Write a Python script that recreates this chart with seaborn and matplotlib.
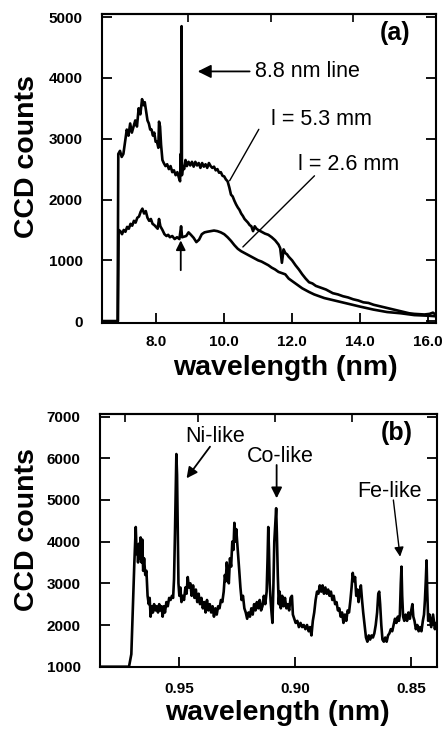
import numpy as np
import pandas as pd
import matplotlib
matplotlib.use("Agg")
import matplotlib.pyplot as plt
import seaborn as sns

# ---------------- data: panel (a) ----------------
wl_53 = [6.40, 6.86, 6.88, 6.93, 6.98, 7.03, 7.08, 7.13, 7.18, 7.23,
         7.28, 7.33, 7.38, 7.43, 7.48, 7.53, 7.58, 7.62, 7.66, 7.70,
         7.74, 7.78, 7.82, 7.86, 7.90, 7.94, 7.98, 8.02, 8.06, 8.08,
         8.11, 8.14, 8.18, 8.22, 8.27, 8.32, 8.37, 8.42, 8.47, 8.52,
         8.57, 8.62, 8.67, 8.70, 8.72, 8.73, 8.745, 8.755, 8.78, 8.82,
         8.86, 8.90, 8.95, 9.00, 9.05, 9.10, 9.15, 9.20, 9.25, 9.30,
         9.35, 9.40, 9.45, 9.50, 9.55, 9.60, 9.65, 9.70, 9.75, 9.80,
         9.85, 9.90, 9.95, 10.00, 10.05, 10.10, 10.15, 10.20, 10.25, 10.30,
         10.35, 10.40, 10.45, 10.50, 10.55, 10.60, 10.65, 10.70, 10.75, 10.80,
         10.85, 10.90, 10.95, 11.00, 11.10, 11.20, 11.30, 11.40, 11.50, 11.60,
         11.65, 11.70, 11.75, 11.80, 11.85, 11.90, 12.00, 12.10, 12.20, 12.30,
         12.40, 12.50, 12.60, 12.70, 12.80, 12.90, 13.00, 13.10, 13.20, 13.35,
         13.50, 13.65, 13.80, 13.95, 14.10, 14.25, 14.40, 14.55, 14.70, 14.85,
         15.00, 15.15, 15.30, 15.45, 15.60, 15.75, 15.90, 16.05, 16.15, 16.25]
cts_53 = [0, 0, 2750, 2800, 2700, 2750, 2950, 3150, 3050, 3250,
          3100, 3200, 3300, 3200, 3500, 3400, 3650, 3550, 3600, 3450,
          3300, 3250, 3150, 3150, 3050, 3100, 2950, 2950, 2850, 3280,
          3200, 2900, 2650, 2600, 2550, 2580, 2500, 2550, 2450, 2480,
          2400, 2450, 2350, 2300, 2750, 2450, 4850, 2400, 2550, 2500,
          2650, 2550, 2620, 2560, 2620, 2540, 2620, 2560, 2600, 2520,
          2600, 2540, 2580, 2520, 2600, 2550, 2520, 2540, 2480, 2500,
          2440, 2450, 2390, 2380, 2330, 2300, 2200, 2080, 2050, 1980,
          1920, 1870, 1830, 1770, 1730, 1680, 1650, 1620, 1580, 1560,
          1480, 1560, 1520, 1500, 1470, 1440, 1420, 1380, 1330, 1260,
          1200, 960, 1180, 1120, 1100, 1060, 1000, 920, 850, 770,
          700, 640, 620, 580, 560, 540, 520, 490, 460, 440,
          410, 390, 360, 340, 310, 300, 270, 250, 230, 210,
          190, 170, 150, 130, 120, 115, 110, 120, 140, 100]

wl_26 = [6.40, 6.87, 6.89, 6.94, 6.99, 7.04, 7.09, 7.14, 7.19, 7.24,
         7.29, 7.34, 7.39, 7.44, 7.49, 7.54, 7.59, 7.64, 7.69, 7.74,
         7.79, 7.84, 7.89, 7.94, 7.99, 8.04, 8.08, 8.12, 8.18, 8.24,
         8.30, 8.35, 8.40, 8.47, 8.54, 8.61, 8.68, 8.73, 8.76, 8.82,
         8.88, 8.95, 9.02, 9.10, 9.18, 9.26, 9.34, 9.42, 9.50, 9.60,
         9.70, 9.80, 9.90, 10.00, 10.10, 10.20, 10.30, 10.40, 10.50, 10.60,
         10.70, 10.80, 10.90, 11.00, 11.10, 11.20, 11.30, 11.40, 11.50, 11.60,
         11.70, 11.80, 11.90, 12.00, 12.10, 12.20, 12.30, 12.40, 12.50, 12.65,
         12.80, 12.95, 13.10, 13.25, 13.40, 13.55, 13.70, 13.85, 14.00, 14.20,
         14.40, 14.60, 14.80, 15.00, 15.20, 15.40, 15.60, 15.80, 16.00, 16.25]
cts_26 = [0, 0, 1500, 1480, 1430, 1500, 1470, 1550, 1520, 1600,
          1570, 1650, 1620, 1700, 1720, 1800, 1850, 1770, 1810, 1700,
          1650, 1680, 1600, 1580, 1550, 1520, 1680, 1560, 1500, 1430,
          1400, 1420, 1380, 1400, 1350, 1380, 1350, 1560, 1380, 1390,
          1400, 1460, 1420, 1370, 1300, 1340, 1430, 1460, 1470, 1480,
          1490, 1480, 1460, 1430, 1380, 1320, 1250, 1190, 1150, 1120,
          1090, 1060, 1030, 1000, 980, 950, 920, 880, 850, 810,
          790, 770, 700, 660, 620, 580, 540, 510, 480, 440,
          410, 380, 360, 340, 320, 300, 280, 260, 240, 215,
          190, 170, 150, 140, 130, 115, 100, 95, 90, 80]

# ---------------- data: panel (b) ----------------
wl_b = [0.9841, 0.9760, 0.9715, 0.9705, 0.9698, 0.9692, 0.9686, 0.9682, 0.9679, 0.9676,
        0.9672, 0.9669, 0.9665, 0.9661, 0.9658, 0.9654, 0.9650, 0.9645, 0.9640, 0.9635,
        0.9630, 0.9626, 0.9622, 0.9617, 0.9612, 0.9607, 0.9601, 0.9596, 0.9590, 0.9585,
        0.9580, 0.9575, 0.9570, 0.9565, 0.9560, 0.9554, 0.9548, 0.9542, 0.9536, 0.9530,
        0.9525, 0.9521, 0.9517, 0.9514, 0.9511, 0.9508, 0.9505, 0.9502, 0.9498, 0.9494,
        0.9489, 0.9484, 0.9478, 0.9472, 0.9467, 0.9462, 0.9457, 0.9451, 0.9445, 0.9439,
        0.9433, 0.9427, 0.9421, 0.9415, 0.9409, 0.9403, 0.9397, 0.9391, 0.9385, 0.9379,
        0.9373, 0.9367, 0.9361, 0.9355, 0.9349, 0.9343, 0.9337, 0.9331, 0.9325, 0.9319,
        0.9313, 0.9307, 0.9302, 0.9298, 0.9294, 0.9290, 0.9285, 0.9280, 0.9275, 0.9270,
        0.9265, 0.9261, 0.9257, 0.9253, 0.9249, 0.9245, 0.9240, 0.9235, 0.9230, 0.9224,
        0.9218, 0.9212, 0.9206, 0.9200, 0.9194, 0.9188, 0.9182, 0.9176, 0.9170, 0.9164,
        0.9158, 0.9152, 0.9146, 0.9140, 0.9134, 0.9128, 0.9122, 0.9118, 0.9115, 0.9112,
        0.9109, 0.9105, 0.9101, 0.9097, 0.9093, 0.9089, 0.9085, 0.9081, 0.9078, 0.9074,
        0.9070, 0.9066, 0.9061, 0.9055, 0.9049, 0.9043, 0.9037, 0.9031, 0.9025, 0.9019,
        0.9013, 0.9009, 0.9003, 0.8997, 0.8990, 0.8983, 0.8976, 0.8969, 0.8962, 0.8955,
        0.8948, 0.8941, 0.8935, 0.8929, 0.8923, 0.8917, 0.8911, 0.8905, 0.8899, 0.8893,
        0.8887, 0.8881, 0.8875, 0.8869, 0.8863, 0.8857, 0.8851, 0.8845, 0.8839, 0.8833,
        0.8827, 0.8821, 0.8815, 0.8809, 0.8803, 0.8797, 0.8791, 0.8785, 0.8779, 0.8773,
        0.8767, 0.8761, 0.8756, 0.8751, 0.8746, 0.8741, 0.8736, 0.8731, 0.8726, 0.8721,
        0.8716, 0.8711, 0.8706, 0.8700, 0.8694, 0.8688, 0.8682, 0.8676, 0.8670, 0.8664,
        0.8658, 0.8652, 0.8646, 0.8641, 0.8637, 0.8633, 0.8628, 0.8623, 0.8617, 0.8611,
        0.8605, 0.8599, 0.8593, 0.8587, 0.8581, 0.8575, 0.8569, 0.8563, 0.8557, 0.8552,
        0.8548, 0.8544, 0.8541, 0.8538, 0.8534, 0.8529, 0.8523, 0.8517, 0.8511, 0.8505,
        0.8499, 0.8494, 0.8490, 0.8485, 0.8479, 0.8473, 0.8467, 0.8461, 0.8455, 0.8449,
        0.8444, 0.8440, 0.8436, 0.8433, 0.8430, 0.8426, 0.8420, 0.8413, 0.8405, 0.8397,
        0.8392]
cts_b = [1000, 1000, 1000, 1300, 2500, 3500, 4350, 3700, 3900, 3500,
         3950, 3600, 4100, 3500, 4050, 3300, 3600, 3200, 3300, 2700,
         2500, 2650, 2200, 2450, 2300, 2500, 2350, 2450, 2300, 2500,
         2350, 2450, 2200, 2450, 2300, 2550, 2450, 2650, 2600, 2700,
         2650, 3100, 4200, 5200, 6100, 5600, 4300, 3000, 2700, 2900,
         2550, 2700, 2600, 2900, 2750, 3150, 2900, 3000, 2700, 2950,
         2650, 2850, 2550, 2750, 2500, 2650, 2400, 2550, 2300, 2600,
         2350, 2500, 2300, 2450, 2200, 2400, 2250, 2450, 2400, 2600,
         2550, 2800, 3200, 3050, 3500, 3300, 3000, 3600, 3400, 4000,
         3800, 4450, 4000, 4300, 4000, 3700, 3300, 2900, 2600, 2700,
         2400, 2300, 2150, 2300, 2200, 2400, 2250, 2500, 2350, 2550,
         2400, 2600, 2350, 2450, 2700, 2500, 2800, 3600, 4350, 3800,
         3000, 2600, 2300, 2050, 2900, 4000, 4400, 4800, 4200, 3200,
         2500, 2800, 2400, 2700, 2450, 2650, 2400, 2500, 2350, 2650,
         2700, 2250, 2150, 2050, 2100, 1950, 2050, 1950, 2000, 1900,
         2000, 1850, 1950, 1750, 2100, 2300, 2600, 2800, 2750, 2950,
         2800, 2950, 2750, 2900, 2750, 2850, 2700, 2800, 2600, 2700,
         2500, 2550, 2350, 2400, 2200, 2300, 2050, 2250, 2100, 2350,
         2300, 2600, 2900, 3250, 3050, 3150, 2700, 2850, 2550, 2800,
         2950, 2600, 2300, 2000, 1700, 1600, 1750, 1650, 1750, 1700,
         1800, 2000, 2300, 2750, 2800, 2500, 2000, 1650, 1600, 1700,
         1600, 1750, 1800, 1900, 1850, 2000, 2150, 2050, 2200, 2100,
         2250, 3000, 3400, 2700, 2200, 2100, 2250, 2100, 2300, 2150,
         2350, 2500, 2200, 2100, 1900, 2000, 1850, 1950, 1850, 2100,
         2250, 2600, 3100, 3550, 2800, 2100, 2250, 1950, 2250, 1900,
         2050]

ticks_a_x = [8.0, 10.0, 12.0, 14.0, 16.0]
ticklabels_a_x = ["8.0", "10.0", "12.0", "14.0", "16.0"]
ticks_a_y = [0, 1000, 2000, 3000, 4000, 5000]
ticks_b_x = [0.95, 0.90, 0.85]
ticklabels_b_x = ["0.95", "0.90", "0.85"]
ticks_b_y = [1000, 2000, 3000, 4000, 5000, 6000, 7000]

# ---------------- styling ----------------
sns.set_style("ticks")
plt.rcParams['font.family'] = ['Liberation Sans', 'DejaVu Sans']
plt.rcParams['axes.linewidth'] = 1.5
for key in ['text.color', 'axes.labelcolor', 'xtick.color', 'ytick.color',
            'axes.edgecolor', 'xtick.labelcolor', 'ytick.labelcolor']:
    plt.rcParams[key] = 'black'

W, H = 442, 730
fig = plt.figure(figsize=(W / 100, H / 100), dpi=100)

def frac_axes(l, t, r, b):
    return fig.add_axes([l / W, 1 - b / H, (r - l) / W, (b - t) / H])

ax1 = frac_axes(102, 14, 436, 323)
ax2 = frac_axes(100, 414, 437, 666.7)

df53 = pd.DataFrame({"wl": wl_53, "cts": cts_53})
df26 = pd.DataFrame({"wl": wl_26, "cts": cts_26})
dfb = pd.DataFrame({"wl": wl_b, "cts": cts_b})

sns.lineplot(data=df53, x="wl", y="cts", ax=ax1, color="black", lw=1.9,
             estimator=None, sort=False)
sns.lineplot(data=df26, x="wl", y="cts", ax=ax1, color="black", lw=1.9,
             estimator=None, sort=False)
sns.lineplot(data=dfb, x="wl", y="cts", ax=ax2, color="black", lw=1.9,
             estimator=None, sort=False)

tick_font = dict(fontsize=11, fontweight="bold", color="black")

# panel (a)
ax1.set_xlim(6.4, 16.24)
ax1.set_ylim(-30, 5050)
ax1.set_xticks(ticks_a_x)
ax1.set_xticklabels(ticklabels_a_x, **tick_font)
ax1.set_yticks(ticks_a_y)
ax1.set_yticklabels([str(v) for v in ticks_a_y], **tick_font)
ax1.tick_params(axis="both", direction="in", length=7, width=1.3,
                right=True, top=False, color="black")
ax1.tick_params(axis="x", pad=9)
ax1.tick_params(axis="y", pad=14)
sec1 = ax1.secondary_xaxis("top")
sec1.set_xticks([8.93, 11.39, 13.79], labels=["", "", ""])
sec1.tick_params(direction="in", length=6, width=1.2, color="black")

# panel (b)
ax2.set_xlim(0.984, 0.8388)
ax2.set_ylim(1000, 7060)
ax2.set_xticks(ticks_b_x)
ax2.set_xticklabels(ticklabels_b_x, **tick_font)
ax2.set_yticks(ticks_b_y)
ax2.set_yticklabels([str(v) for v in ticks_b_y], **tick_font)
ax2.tick_params(axis="both", direction="in", length=7, width=1.3,
                right=True, top=False, color="black")
ax2.tick_params(axis="x", pad=11)
ax2.tick_params(axis="y", pad=14)
sec2 = ax2.secondary_xaxis("top")
sec2.set_xticks([0.9733, 0.9417, 0.9086, 0.8756], labels=["", "", "", ""])
sec2.tick_params(direction="in", length=6, width=1.2, color="black")

for ax in (ax1, ax2):
    ax.set_xlabel("")
    ax.set_ylabel("")
    for s in ax.spines.values():
        s.set_visible(True)
        s.set_linewidth(1.5)
        s.set_color("black")
for sec in (sec1, sec2):
    for s in sec.spines.values():
        s.set_color("black")
        s.set_linewidth(1.5)

# axis labels
lab = dict(fontsize=20.5, fontweight="bold", ha="center", va="center", color="black")
fig.text(27 / W, 1 - 157 / H, "CCD counts", rotation=90, **lab)
fig.text(285 / W, 1 - 368 / H, "wavelength (nm)", **lab)
fig.text(27 / W, 1 - 530 / H, "CCD counts", rotation=90, **lab)
fig.text(277 / W, 1 - 713 / H, "wavelength (nm)", **lab)

# annotations panel (a)
ann = dict(fontsize=15.5, color="black")
ax1.text(15.02, 4740, "(a)", fontsize=18, fontweight="bold", ha="center", va="center", color="black")
ax1.text(10.9, 4106, "8.8 nm line", ha="left", va="center", **ann)
ax1.annotate("", xy=(9.22, 4106), xytext=(10.75, 4106),
             arrowprops=dict(arrowstyle="-|>", color="black", lw=1.3,
                             mutation_scale=20, shrinkA=0, shrinkB=0))
ax1.text(11.38, 3317, "l = 5.3 mm", ha="left", va="center", **ann)
ax1.annotate("", xy=(10.16, 2309), xytext=(11.02, 3154),
             arrowprops=dict(arrowstyle="-", color="black", lw=1.0,
                             shrinkA=0, shrinkB=0))
ax1.text(12.16, 2582, "l = 2.6 mm", ha="left", va="center", **ann)
ax1.annotate("", xy=(10.55, 1220), xytext=(12.66, 2390),
             arrowprops=dict(arrowstyle="-", color="black", lw=1.0,
                             shrinkA=0, shrinkB=0))
ax1.annotate("", xy=(8.72, 1328), xytext=(8.72, 838),
             arrowprops=dict(arrowstyle="-|>", color="black", lw=1.3,
                             mutation_scale=14, shrinkA=0, shrinkB=0))

# annotations panel (b)
ax2.text(0.8562, 6597, "(b)", fontsize=18, fontweight="bold", ha="center", va="center", color="black")
ax2.text(0.9345, 6516, "Ni-like", ha="center", va="center", **ann)
ax2.annotate("", xy=(0.9467, 5518), xytext=(0.9366, 6276),
             arrowprops=dict(arrowstyle="-|>", color="black", lw=1.3,
                             mutation_scale=16, shrinkA=0, shrinkB=0))
ax2.text(0.9065, 6036, "Co-like", ha="center", va="center", **ann)
ax2.annotate("", xy=(0.9079, 5039), xytext=(0.9079, 5837),
             arrowprops=dict(arrowstyle="-|>", color="black", lw=1.3,
                             mutation_scale=16, shrinkA=0, shrinkB=0))
ax2.text(0.8591, 5197, "Fe-like", ha="center", va="center", **ann)
ax2.annotate("", xy=(0.8547, 3638), xytext=(0.8576, 4997),
             arrowprops=dict(arrowstyle="-|>", color="black", lw=1.0,
                             mutation_scale=14, shrinkA=0, shrinkB=0))

fig.savefig("out.png", dpi=100)
